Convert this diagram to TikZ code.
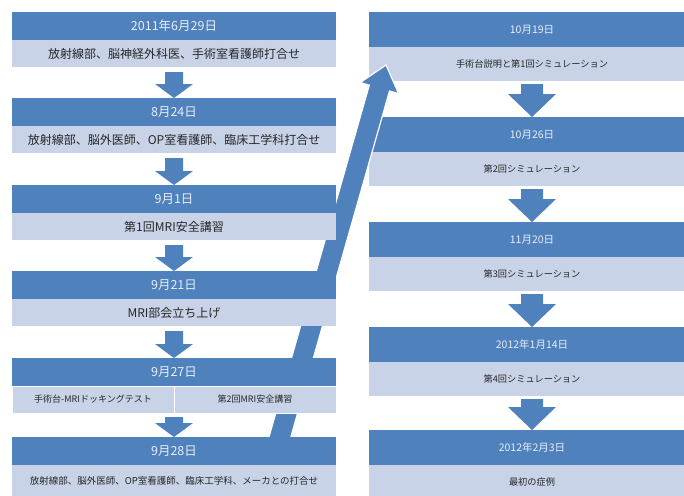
\documentclass[tikz,border=0pt]{standalone}
\usepackage{fontspec}
\setmainfont{Noto Sans CJK JP}
\usetikzlibrary{calc}
\definecolor{hdrblue}{RGB}{79,129,189}
\definecolor{subblue}{RGB}{201,211,232}
\definecolor{hdrtext}{RGB}{232,238,248}
\definecolor{subtext}{RGB}{38,38,38}
\tikzset{
  lhdr/.style={fill=hdrblue, text=hdrtext, anchor=north west, inner sep=0pt, outer sep=0pt,
    minimum width=324pt, minimum height=28pt, font=\fontsize{12.5}{13}\selectfont},
  lsub/.style={fill=subblue, text=subtext, anchor=north west, inner sep=0pt, outer sep=0pt,
    minimum width=324pt, minimum height=27pt, font=\fontsize{12}{13}\selectfont},
  lhalf/.style={fill=subblue, draw=white, line width=0.6pt, text=subtext, anchor=north west, inner sep=0pt, outer sep=0pt,
    minimum width=162pt, minimum height=27pt, font=\fontsize{9}{10}\selectfont},
  rhdr/.style={fill=hdrblue, text=hdrtext, anchor=north west, inner sep=0pt, outer sep=0pt,
    minimum width=326pt, minimum height=35pt, font=\fontsize{10.5}{11}\selectfont},
  rsub/.style={fill=subblue, text=subtext, anchor=north west, inner sep=0pt, outer sep=0pt,
    minimum width=326pt, minimum height=34pt, font=\fontsize{9.2}{10}\selectfont},
  arrowfill/.style={fill=hdrblue},
  bigarrow/.style={fill=hdrblue, draw=white, line width=1.2pt, line join=miter}
}
% #1 from node, #2 to node, #3 shaft half width, #4 head half width, #5 head length, #6 top gap
\newcommand\flowarrow[6]{%
  \fill[arrowfill] let \p1=(#1.south), \p2=(#2.north) in
    (\x2-#3,\y1-#6) -- (\x2+#3,\y1-#6) -- (\x2+#3,\y2+#5) -- (\x2+#4,\y2+#5)
    -- (\x2,\y2) -- (\x2-#4,\y2+#5) -- (\x2-#3,\y2+#5) -- cycle;}
\begin{document}
\begin{tikzpicture}[x=1pt,y=-1pt]
\useasboundingbox (0,0) rectangle (684,495);
\clip (0,0) rectangle (684,495);
\fill[white] (0,0) rectangle (684,495);

% right column
\node[rhdr] (r1h) at (369,12) {10月19日};
\node[rsub] (r1s) at (369,47) {手術台説明と第1回シミュレーション};
\node[rhdr] (r2h) at (369,117) {10月26日};
\node[rsub] (r2s) at (369,152) {第2回シミュレーション};
\node[rhdr] (r3h) at (369,222) {11月20日};
\node[rsub] (r3s) at (369,257) {第3回シミュレーション};
\node[rhdr] (r4h) at (369,327) {2012年1月14日};
\node[rsub] (r4s) at (369,362) {第4回シミュレーション};
\node[rhdr] (r5h) at (369,430) {2012年2月3日};
\node[rsub] (r5s) at (369,465) {最初の症例};

\flowarrow{r1s}{r2h}{11pt}{24pt}{23pt}{3pt}
\flowarrow{r2s}{r3h}{11pt}{24pt}{23pt}{3pt}
\flowarrow{r3s}{r4h}{11pt}{24pt}{23pt}{3pt}
\flowarrow{r4s}{r5h}{11pt}{24pt}{23pt}{3pt}

% big diagonal arrow (its foot is hidden behind the left column)
\coordinate (bs) at (270.5,470);
\coordinate (bt) at (386,65);
\filldraw[bigarrow] (260.4,467.1) -- (369.3,85.2) -- (360.2,82.6) -- (bt)
  -- (398.6,93.6) -- (389.5,91.0) -- (280.6,472.9) -- cycle;

% left column
\node[lhdr] (l1h) at (12,12) {2011年6月29日};
\node[lsub] (l1s) at (12,40) {放射線部、脳神経外科医、手術室看護師打合せ};
\node[lhdr] (l2h) at (12,98) {8月24日};
\node[lsub] (l2s) at (12,126) {放射線部、脳外医師、OP室看護師、臨床工学科打合せ};
\node[lhdr] (l3h) at (12,185) {9月1日};
\node[lsub] (l3s) at (12,213) {第1回MRI安全講習};
\node[lhdr] (l4h) at (12,271) {9月21日};
\node[lsub] (l4s) at (12,299) {MRI部会立ち上げ};
\node[lhdr] (l5h) at (12,358) {9月27日};
\node[lhalf] (l5a) at (12,386) {手術台-MRIドッキングテスト};
\node[lhalf] (l5b) at (174,386) {第2回MRI安全講習};
\node[lhdr] (l6h) at (12,437) {9月28日};
\node[lsub,minimum height=32pt,font=\fontsize{9.5}{10}\selectfont] (l6s) at (12,465) {放射線部、脳外医師、OP室看護師、臨床工学科、メーカとの打合せ};

\flowarrow{l1s}{l2h}{9pt}{19pt}{14pt}{5pt}
\flowarrow{l2s}{l3h}{9pt}{19pt}{14pt}{5pt}
\flowarrow{l3s}{l4h}{9pt}{19pt}{14pt}{5pt}
\flowarrow{l4s}{l5h}{9pt}{19pt}{14pt}{5pt}
\flowarrow{l5a}{l6h}{9pt}{19pt}{14pt}{4pt}
\end{tikzpicture}
\end{document}
